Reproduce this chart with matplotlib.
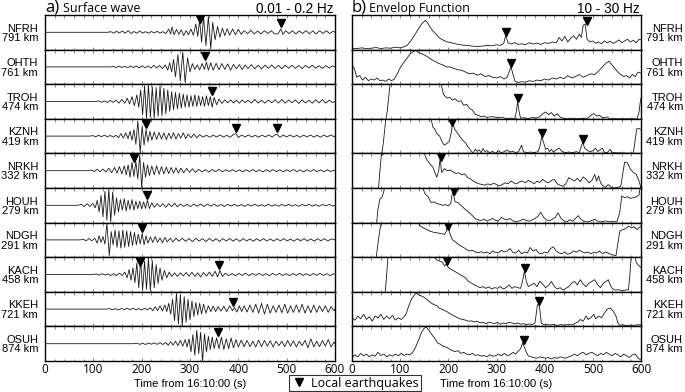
import numpy as np
import matplotlib.pyplot as plt
from matplotlib.lines import Line2D
from matplotlib.ticker import MultipleLocator

plt.rcParams['font.family'] = ['Liberation Sans', 'DejaVu Sans']

stations = ["NFRH", "OHTH", "TROH", "KZNH", "NRKH", "HOUH", "NDGH", "KACH", "KKEH", "OSUH"]
dist_km = [791, 761, 474, 419, 332, 279, 291, 458, 721, 874]

# local earthquake arrival times (s)
quakes_nfrh = [320, 488]
quakes_ohth = [331]
quakes_troh = [345]
quakes_kznh = [208, 395, 480]
quakes_nrkh = [185]
quakes_houh = [212]
quakes_ndgh = [200]
quakes_kach = [197, 360]
quakes_kkeh = [388]
quakes_osuh = [357]

# surface wave traces (time s, normalised amplitude), read peak by peak
sw_nfrh = [(0, 0), (130, 0), (136, 0.04), (142, -0.05), (148, 0.06), (154, -0.04), (160, 0.08), (166, -0.06),
           (172, 0.1), (178, -0.07), (184, 0.05), (190, -0.06), (196, 0.08), (202, -0.05), (208, 0.04), (214, -0.06),
           (220, 0.05), (226, -0.04), (232, 0.06), (238, -0.05), (244, 0.04), (250, -0.08), (256, 0.2), (260, -0.1),
           (263, 0.33), (267, -0.15), (272, 0.18), (277, -0.12), (282, 0.15), (287, -0.2), (292, 0.1), (297, -0.15),
           (302, 0.2), (307, -0.18), (312, 0.5), (316, -0.25), (320, 0.75), (324, -0.6), (328, 0.95), (333, -0.8),
           (338, 0.95), (343, -1.0), (347, 0.6), (352, -0.45), (357, 0.35), (362, -0.3), (367, 0.25), (372, -0.2),
           (377, 0.22), (382, -0.18), (388, 0.2), (394, -0.15), (400, 0.18), (406, -0.12), (412, 0.1), (419, -0.08),
           (426, 0.12), (433, -0.1), (440, 0.08), (447, -0.1), (454, 0.09), (461, -0.07), (468, 0.1), (475, -0.09),
           (482, -0.1), (488, 0.2), (492, -0.12), (498, 0.1), (505, -0.08), (512, 0.09), (519, -0.1), (526, 0.08),
           (533, -0.07), (540, 0.1), (547, -0.09), (554, 0.08), (561, -0.1), (568, 0.09), (575, -0.07), (582, 0.1),
           (589, -0.08), (596, 0.06), (600, 0)]
sw_ohth = [(0, 0), (135, 0), (141, 0.03), (147, -0.04), (153, 0.05), (159, -0.03), (165, 0.04), (171, -0.05),
           (177, 0.06), (183, -0.04), (189, 0.05), (195, -0.06), (201, 0.07), (207, -0.05), (213, 0.06), (219, -0.08),
           (225, 0.1), (231, -0.07), (237, 0.09), (243, -0.1), (249, 0.12), (254, -0.2), (258, 0.25), (262, -0.3),
           (266, 0.45), (270, -0.6), (275, 0.75), (280, -0.85), (285, 0.9), (290, -0.95), (295, 0.55), (300, -0.3),
           (305, 0.2), (310, -0.15), (315, 0.12), (320, -0.18), (325, 0.2), (330, -0.15), (334, 0.3), (338, -0.2),
           (343, 0.25), (348, -0.2), (354, 0.22), (360, -0.18), (366, 0.2), (372, -0.15), (378, 0.18), (384, -0.2),
           (390, 0.15), (396, -0.12), (402, 0.14), (408, -0.16), (414, 0.12), (420, -0.1), (427, 0.14), (434, -0.12),
           (441, 0.1), (448, -0.13), (455, 0.11), (462, -0.09), (469, 0.12), (476, -0.1), (483, 0.09), (490, -0.11),
           (497, 0.1), (504, -0.08), (511, 0.1), (518, -0.09), (525, 0.08), (532, -0.1), (539, 0.09), (546, -0.07),
           (553, 0.1), (560, -0.08), (567, 0.07), (574, -0.09), (581, 0.08), (588, -0.07), (595, 0.06), (600, 0)]
sw_troh = [(0, 0), (105, 0), (111, 0.04), (117, -0.05), (123, 0.04), (129, -0.06), (135, 0.07), (141, -0.05),
           (147, 0.08), (153, -0.1), (159, 0.12), (165, -0.1), (170, 0.2), (175, -0.15), (180, 0.3), (185, -0.25),
           (190, 0.4), (194, -0.35), (198, 0.7), (202, -0.8), (206, 0.95), (210, -1.0), (214, 1.0), (218, -0.95),
           (222, 0.9), (226, -1.0), (230, 0.85), (234, -0.9), (238, 0.95), (242, -0.85), (246, 0.8), (250, -0.75),
           (254, 0.7), (258, -0.6), (262, 0.6), (266, -0.5), (270, 0.55), (274, -0.45), (278, 0.5), (282, -0.4),
           (286, 0.45), (290, -0.35), (294, 0.4), (298, -0.35), (302, 0.35), (306, -0.3), (310, 0.4), (314, -0.3),
           (318, 0.35), (322, -0.25), (326, 0.3), (330, -0.3), (334, 0.35), (338, -0.25), (342, 0.3), (346, -0.35),
           (350, 0.25), (355, -0.2), (360, 0.15), (366, -0.12), (372, 0.1), (378, -0.08), (384, 0.1), (390, -0.09),
           (396, 0.08), (402, -0.1), (408, 0.09), (414, -0.07), (420, 0.08), (427, -0.1), (434, 0.12), (441, -0.09),
           (448, 0.08), (455, -0.1), (462, 0.09), (469, -0.08), (476, 0.1), (483, -0.09), (490, 0.12), (497, -0.1),
           (504, 0.09), (511, -0.08), (518, 0.1), (525, -0.12), (532, 0.1), (539, -0.09), (546, 0.08), (553, -0.1),
           (560, 0.11), (567, -0.09), (574, 0.12), (581, -0.1), (588, 0.08), (595, -0.06), (600, 0)]
sw_kznh = [(0, 0), (93, 0), (99, 0.03), (105, -0.04), (111, 0.05), (117, -0.04), (123, 0.06), (129, -0.05),
           (135, 0.04), (141, -0.06), (147, 0.05), (152, -0.1), (157, 0.15), (162, -0.12), (167, 0.2), (172, -0.15),
           (176, 0.3), (180, -0.25), (184, 0.4), (188, -0.5), (192, 0.9), (197, -1.0), (201, 0.6), (205, -0.55),
           (209, 0.4), (213, -0.35), (217, 0.3), (221, -0.25), (226, 0.25), (231, -0.2), (236, 0.22), (241, -0.18),
           (246, 0.2), (251, -0.22), (256, 0.18), (261, -0.15), (266, 0.2), (271, -0.18), (276, 0.15), (281, -0.12),
           (286, 0.2), (291, -0.15), (296, 0.12), (302, -0.1), (308, 0.12), (314, -0.1), (320, 0.08), (327, -0.06),
           (334, 0.05), (341, -0.07), (348, 0.06), (355, -0.05), (362, 0.07), (369, -0.06), (376, 0.05), (383, -0.07),
           (390, 0.1), (395, 0.15), (400, -0.08), (407, 0.06), (414, -0.05), (421, 0.07), (428, -0.06), (435, 0.05),
           (442, -0.07), (449, 0.06), (456, -0.05), (463, 0.07), (470, -0.06), (476, 0.08), (480, 0.12), (486, -0.07),
           (493, 0.06), (500, -0.05), (507, 0.07), (514, -0.06), (521, 0.05), (528, -0.07), (535, 0.06), (542, -0.05),
           (549, 0.07), (556, -0.06), (563, 0.05), (570, -0.07), (577, 0.06), (584, -0.05), (591, 0.07), (598, -0.04),
           (600, 0)]
sw_nrkh = [(0, 0), (90, 0), (96, 0.04), (102, -0.05), (108, 0.08), (114, -0.06), (120, 0.1), (126, -0.08),
           (132, 0.15), (138, -0.12), (144, 0.2), (149, -0.15), (154, 0.25), (159, -0.2), (164, 0.3), (168, -0.25),
           (172, 0.35), (176, -0.4), (180, 0.5), (184, -0.35), (188, 0.55), (192, -0.5), (196, 0.95), (200, -1.0),
           (204, 0.5), (208, -0.4), (212, 0.35), (216, -0.3), (221, 0.28), (226, -0.25), (231, 0.3), (236, -0.22),
           (241, 0.25), (246, -0.2), (251, 0.22), (256, -0.18), (261, 0.2), (266, -0.15), (271, 0.18), (276, -0.15),
           (281, 0.15), (287, -0.12), (293, 0.14), (299, -0.1), (305, 0.12), (311, -0.1), (318, 0.08), (325, -0.07),
           (332, 0.06), (339, -0.08), (346, 0.07), (353, -0.06), (360, 0.08), (367, -0.07), (374, 0.06), (381, -0.05),
           (388, 0.07), (395, -0.06), (402, 0.05), (409, -0.07), (416, 0.06), (423, -0.05), (430, 0.07), (437, -0.06),
           (444, 0.05), (451, -0.07), (458, 0.06), (465, -0.05), (472, 0.07), (479, -0.06), (486, 0.05), (493, -0.07),
           (500, 0.06), (507, -0.05), (514, 0.07), (521, -0.06), (528, 0.05), (535, -0.07), (542, 0.06), (549, -0.05),
           (556, 0.07), (563, -0.06), (570, 0.05), (577, -0.07), (584, 0.06), (591, -0.05), (598, 0.03), (600, 0)]
sw_houh = [(0, 0), (69, 0), (75, 0.06), (81, -0.08), (87, 0.1), (93, -0.07), (99, 0.12), (104, -0.15), (108, 0.3),
           (112, -0.4), (116, 0.6), (120, -0.7), (124, 0.85), (128, -0.9), (132, 1.0), (136, -1.0), (140, 0.8),
           (144, -0.6), (148, 0.45), (152, -0.4), (156, 0.35), (160, -0.3), (164, 0.4), (168, -0.35), (172, 0.3),
           (176, -0.25), (180, 0.35), (184, -0.3), (188, 0.25), (192, -0.2), (196, 0.25), (200, -0.22), (204, 0.2),
           (208, -0.18), (212, 0.3), (216, -0.2), (221, 0.15), (226, -0.12), (232, 0.1), (238, -0.08), (244, 0.1),
           (250, -0.12), (256, 0.1), (262, -0.08), (268, 0.12), (274, -0.1), (280, 0.08), (287, -0.07), (294, 0.06),
           (301, -0.08), (308, 0.07), (315, -0.06), (322, 0.08), (329, -0.07), (336, 0.06), (343, -0.05), (350, 0.07),
           (357, -0.06), (364, 0.05), (371, -0.07), (378, 0.06), (385, -0.05), (392, 0.06), (399, -0.05), (406, 0.04),
           (413, -0.06), (420, 0.05), (427, -0.04), (434, 0.06), (441, -0.05), (448, 0.04), (455, -0.06), (462, 0.07),
           (469, -0.05), (476, 0.04), (483, -0.06), (490, 0.05), (497, -0.04), (504, 0.06), (511, -0.05), (518, 0.04),
           (525, -0.06), (532, 0.05), (539, -0.04), (546, 0.06), (553, -0.05), (560, 0.04), (567, -0.06), (574, 0.05),
           (581, -0.04), (588, 0.06), (595, -0.05), (600, 0)]
sw_ndgh = [(0, 0), (73, 0), (79, 0.05), (85, -0.06), (91, 0.08), (97, -0.05), (103, 0.1), (108, -0.2), (112, 0.25),
           (116, -0.15), (120, 0.2), (124, -0.25), (128, 1.0), (133, -0.95), (137, 0.5), (141, -0.3), (145, 0.6),
           (149, -0.45), (153, 0.55), (157, -0.5), (161, 0.6), (165, -0.45), (169, 0.55), (173, -0.4), (177, 0.5),
           (181, -0.35), (185, 0.45), (189, -0.3), (193, 0.35), (197, -0.25), (201, 0.4), (205, -0.3), (209, 0.25),
           (213, -0.2), (218, 0.18), (223, -0.15), (228, 0.2), (233, -0.15), (238, 0.12), (243, -0.18), (248, 0.15),
           (253, -0.12), (259, 0.1), (265, -0.12), (271, 0.1), (277, -0.08), (284, 0.1), (291, -0.09), (298, 0.08),
           (305, -0.1), (312, 0.09), (319, -0.07), (326, 0.08), (333, -0.1), (340, 0.09), (347, -0.08), (354, 0.07),
           (361, -0.09), (368, 0.08), (375, -0.07), (382, 0.09), (389, -0.08), (396, 0.07), (403, -0.09), (410, 0.08),
           (417, -0.07), (424, 0.06), (431, -0.08), (438, 0.07), (445, -0.06), (452, 0.08), (459, -0.07), (466, 0.06),
           (473, -0.08), (480, 0.07), (487, -0.06), (494, 0.08), (501, -0.07), (508, 0.06), (515, -0.08), (522, 0.07),
           (529, -0.06), (536, 0.08), (543, -0.07), (550, 0.06), (557, -0.08), (564, 0.07), (571, -0.06), (578, 0.08),
           (585, -0.07), (592, 0.06), (600, 0)]
sw_kach = [(0, 0), (100, 0), (106, 0.03), (112, -0.04), (118, 0.05), (124, -0.03), (130, 0.04), (136, -0.06),
           (142, 0.05), (148, -0.07), (154, 0.08), (160, -0.06), (165, 0.15), (170, -0.2), (174, 0.3), (178, -0.35),
           (182, 0.4), (186, -0.5), (190, 0.7), (194, -0.8), (198, 0.9), (202, -0.95), (206, 0.8), (210, -0.9),
           (214, 1.0), (218, -1.0), (222, 0.85), (226, -0.8), (230, 0.6), (234, -0.55), (238, 0.4), (242, -0.35),
           (247, 0.25), (252, -0.2), (257, 0.15), (262, -0.12), (268, 0.1), (274, -0.12), (280, 0.1), (286, -0.08),
           (292, 0.12), (298, -0.1), (304, 0.14), (310, -0.12), (316, 0.1), (322, -0.15), (328, 0.12), (334, -0.1),
           (340, 0.15), (346, -0.12), (352, 0.2), (357, -0.15), (362, 0.25), (367, -0.12), (373, 0.08), (380, -0.07),
           (387, 0.06), (394, -0.08), (401, 0.07), (408, -0.06), (415, 0.08), (422, -0.07), (429, 0.06), (436, -0.05),
           (443, 0.07), (450, -0.06), (457, 0.05), (464, -0.07), (471, 0.06), (478, -0.05), (485, 0.07), (492, -0.06),
           (499, 0.05), (506, -0.07), (513, 0.06), (520, -0.05), (527, 0.07), (534, -0.06), (541, 0.05), (548, -0.07),
           (555, 0.06), (562, -0.05), (569, 0.07), (576, -0.06), (583, 0.05), (590, -0.07), (597, 0.05), (600, 0)]
sw_kkeh = [(0, 0), (128, 0), (134, 0.03), (140, -0.04), (146, 0.03), (152, -0.05), (158, 0.04), (164, -0.03),
           (170, 0.05), (176, -0.04), (182, 0.06), (188, -0.05), (194, 0.04), (200, -0.06), (206, 0.05), (212, -0.04),
           (218, 0.08), (223, -0.1), (228, 0.15), (233, -0.1), (238, 0.2), (243, -0.12), (248, 0.25), (252, -0.15),
           (256, 0.35), (260, -0.3), (264, 0.6), (268, -0.7), (272, 0.95), (276, -0.9), (280, 0.85), (284, -1.0),
           (288, 0.75), (292, -0.8), (296, 0.6), (300, -0.65), (304, 0.5), (308, -0.45), (312, 0.4), (316, -0.35),
           (320, 0.35), (324, -0.3), (328, 0.3), (333, -0.25), (338, 0.2), (343, -0.15), (348, 0.18), (353, -0.15),
           (358, 0.15), (364, -0.12), (370, 0.18), (376, -0.15), (382, 0.2), (388, -0.1), (392, 0.1), (397, -0.18),
           (402, 0.2), (407, -0.15), (412, 0.2), (418, -0.18), (424, 0.25), (430, -0.2), (436, 0.3), (442, -0.25),
           (448, 0.35), (454, -0.3), (460, 0.3), (466, -0.25), (472, 0.2), (478, -0.2), (484, 0.25), (490, -0.22),
           (496, 0.3), (502, -0.25), (508, 0.2), (514, -0.2), (520, 0.25), (526, -0.2), (532, 0.3), (538, -0.25),
           (544, 0.2), (550, -0.22), (556, 0.25), (562, -0.2), (568, 0.2), (574, -0.15), (580, 0.2), (586, -0.2),
           (592, 0.15), (598, -0.1), (600, 0)]
sw_osuh = [(0, 0), (184, 0), (190, 0.03), (196, -0.04), (202, 0.03), (208, -0.05), (214, 0.04), (220, -0.03),
           (226, 0.05), (232, -0.04), (238, 0.06), (244, -0.05), (250, 0.08), (255, -0.1), (260, 0.12), (265, -0.08),
           (270, 0.15), (275, -0.12), (280, 0.2), (285, -0.15), (290, 0.25), (294, -0.2), (298, 0.3), (302, -0.5),
           (306, 0.55), (310, -0.7), (314, 0.8), (318, -0.6), (322, 0.7), (326, -1.1), (330, 0.6), (334, -0.5),
           (338, 0.45), (342, -0.35), (346, 0.4), (350, -0.3), (355, 0.35), (360, -0.3), (365, 0.4), (370, -0.35),
           (375, 0.3), (380, -0.3), (385, 0.35), (390, -0.25), (395, 0.25), (400, -0.2), (406, 0.22), (412, -0.18),
           (418, 0.2), (424, -0.18), (430, 0.15), (436, -0.2), (442, 0.22), (448, -0.18), (454, 0.2), (460, -0.15),
           (466, 0.18), (472, -0.2), (478, 0.15), (484, -0.12), (490, 0.15), (496, -0.18), (502, 0.2), (508, -0.15),
           (514, 0.18), (520, -0.2), (526, 0.15), (532, -0.12), (538, 0.2), (544, -0.25), (550, 0.3), (556, -0.2),
           (562, 0.15), (568, -0.18), (574, 0.2), (580, -0.15), (586, 0.25), (592, -0.2), (598, 0.1), (600, 0)]

# 10-30 Hz envelopes (time s, fraction of row height; >1 runs off the row)
env_nfrh = [(0, 0.04), (10, 0.03), (20, 0.05), (30, 0.03), (40, 0.04), (50, 0.06), (60, 0.03), (70, 0.05), (80, 0.04),
            (90, 0.07), (100, 0.05), (108, 0.08), (115, 0.13), (122, 0.25), (130, 0.42), (138, 0.6), (145, 0.75),
            (153, 0.85), (160, 0.7), (167, 0.55), (174, 0.45), (182, 0.33), (190, 0.27), (198, 0.22), (206, 0.2),
            (214, 0.17), (222, 0.15), (230, 0.13), (240, 0.12), (250, 0.1), (260, 0.09), (270, 0.1), (280, 0.12),
            (290, 0.11), (300, 0.14), (308, 0.12), (315, 0.18), (319, 0.41), (324, 0.2), (330, 0.16), (338, 0.2),
            (345, 0.15), (352, 0.17), (360, 0.14), (368, 0.2), (376, 0.16), (384, 0.19), (392, 0.15), (400, 0.2),
            (408, 0.18), (416, 0.22), (424, 0.2), (430, 0.35), (436, 0.25), (442, 0.38), (448, 0.22), (454, 0.33),
            (460, 0.4), (466, 0.3), (472, 0.45), (476, 0.35), (480, 0.7), (484, 0.74), (488, 0.3), (494, 0.22),
            (500, 0.25), (506, 0.18), (512, 0.22), (518, 0.17), (524, 0.25), (530, 0.2), (536, 0.24), (542, 0.18),
            (548, 0.22), (554, 0.28), (560, 0.2), (566, 0.25), (572, 0.3), (578, 0.22), (584, 0.27), (590, 0.2),
            (596, 0.3), (600, 0.28)]
env_ohth = [(0, 0.56), (5, 0.45), (10, 0.2), (16, 0.25), (22, 0.12), (28, 0.2), (34, 0.1), (40, 0.15), (46, 0.12),
            (52, 0.18), (58, 0.1), (64, 0.12), (70, 0.08), (76, 0.15), (82, 0.1), (88, 0.15), (94, 0.3), (100, 0.48),
            (107, 0.62), (114, 0.75), (121, 0.88), (128, 0.95), (133, 0.97), (140, 0.9), (148, 0.86), (156, 0.8),
            (164, 0.72), (172, 0.66), (180, 0.6), (188, 0.56), (196, 0.5), (204, 0.5), (212, 0.45), (220, 0.42),
            (228, 0.4), (236, 0.35), (244, 0.3), (252, 0.32), (260, 0.26), (268, 0.3), (276, 0.22), (284, 0.25),
            (292, 0.2), (300, 0.18), (308, 0.22), (316, 0.15), (322, 0.2), (326, 0.35), (330, 0.5), (334, 0.3),
            (338, 0.1), (344, 0.05), (352, 0.07), (360, 0.06), (368, 0.1), (376, 0.08), (384, 0.12), (392, 0.1),
            (400, 0.15), (408, 0.12), (416, 0.18), (424, 0.15), (432, 0.2), (440, 0.16), (448, 0.25), (456, 0.18),
            (464, 0.22), (472, 0.28), (480, 0.2), (488, 0.25), (496, 0.3), (504, 0.28), (512, 0.38), (520, 0.5),
            (528, 0.62), (534, 0.66), (540, 0.55), (546, 0.45), (552, 0.35), (558, 0.28), (564, 0.22), (570, 0.25),
            (576, 0.18), (582, 0.28), (588, 0.22), (594, 0.35), (600, 0.32)]
env_troh = [(0, -0.02), (70, -0.02), (73, 0.2), (76, 0.6), (79, 1.0), (82, 1.3), (100, 1.6), (150, 1.5), (180, 1.2),
            (186, 0.95), (190, 0.7), (194, 0.64), (198, 0.6), (203, 0.62), (208, 0.54), (214, 0.58), (220, 0.5),
            (226, 0.52), (232, 0.39), (238, 0.42), (244, 0.3), (250, 0.25), (256, 0.13), (262, 0.1), (268, 0.06),
            (274, 0.08), (280, 0.04), (288, 0.06), (296, 0.05), (304, 0.03), (312, 0.05), (320, 0.0), (330, 0.02),
            (338, 0.0), (341, 0.2), (344, 0.49), (347, 0.2), (350, 0.02), (358, 0.03), (366, 0.0), (374, 0.04),
            (382, 0.02), (390, 0.06), (396, 0.15), (402, 0.2), (408, 0.12), (414, 0.18), (420, 0.08), (426, 0.15),
            (432, 0.05), (438, 0.02), (446, 0.0), (454, 0.02), (462, 0.0), (490, 0.02), (496, 0.1), (502, 0.15),
            (508, 0.08), (514, 0.1), (520, 0.03), (530, 0.05), (536, 0.0), (592, 0.0), (596, 0.2), (598, 0.44),
            (600, 0.6)]
env_kznh = [(0, -0.02), (62, -0.02), (65, 0.3), (68, 0.7), (71, 1.1), (75, 1.4), (120, 1.6), (160, 1.2), (164, 1.0),
            (168, 0.76), (172, 0.7), (176, 0.57), (182, 0.5), (188, 0.3), (192, 0.24), (198, 0.3), (202, 0.35),
            (206, 0.6), (209, 0.9), (213, 0.7), (220, 0.57), (226, 0.45), (230, 0.38), (236, 0.3), (240, 0.2),
            (246, 0.1), (248, 0.05), (252, 0.02), (256, 0.12), (260, 0.06), (264, 0.1), (268, 0.02), (272, 0.14),
            (276, 0.05), (280, 0.08), (286, 0.02), (292, 0.06), (298, 0.0), (304, 0.08), (310, 0.02), (316, 0.05),
            (322, 0.1), (328, 0.04), (334, 0.06), (340, 0.02), (346, 0.05), (352, 0.24), (356, 0.05), (362, 0.02),
            (370, 0.04), (378, 0.02), (386, 0.05), (390, 0.2), (394, 0.48), (398, 0.3), (402, 0.12), (406, 0.15),
            (410, 0.05), (414, 0.12), (418, 0.04), (424, 0.1), (430, 0.15), (436, 0.06), (442, 0.02), (450, 0.04),
            (458, 0.02), (466, 0.05), (472, 0.02), (476, 0.2), (479, 0.33), (483, 0.15), (488, 0.1), (494, 0.04),
            (500, 0.08), (506, 0.15), (510, 0.05), (516, 0.12), (520, 0.15), (524, 0.03), (530, 0.02), (536, 0.12),
            (540, 0.02), (584, 0.0), (588, 0.4), (591, 0.71), (596, 0.72), (600, 0.68)]
env_nrkh = [(0, -0.02), (55, -0.02), (58, 0.5), (61, 0.97), (64, 0.95), (68, 1.2), (80, 1.6), (140, 1.3), (150, 1.0),
            (156, 0.8), (162, 0.7), (168, 0.6), (172, 0.45), (176, 0.31), (180, 0.5), (183, 0.85), (186, 0.45),
            (192, 0.56), (198, 0.5), (204, 0.52), (210, 0.46), (216, 0.42), (222, 0.44), (228, 0.38), (234, 0.41),
            (240, 0.3), (246, 0.26), (252, 0.2), (258, 0.15), (264, 0.12), (270, 0.1), (276, 0.08), (282, 0.12),
            (288, 0.09), (294, 0.14), (300, 0.1), (306, 0.06), (312, 0.1), (318, 0.15), (324, 0.12), (330, 0.2),
            (336, 0.15), (342, 0.12), (348, 0.18), (354, 0.2), (360, 0.15), (366, 0.22), (372, 0.18), (378, 0.12),
            (384, 0.2), (390, 0.16), (396, 0.25), (402, 0.18), (408, 0.15), (414, 0.22), (420, 0.25), (426, 0.12),
            (432, 0.08), (438, 0.05), (444, 0.12), (450, 0.3), (456, 0.25), (462, 0.2), (468, 0.28), (474, 0.18),
            (480, 0.32), (486, 0.25), (492, 0.15), (498, 0.22), (504, 0.39), (508, 0.2), (512, 0.35), (516, 0.15),
            (520, 0.08), (526, 0.02), (532, 0.1), (538, 0.02), (544, 0.0), (552, 0.02), (558, 0.05), (562, 0.4),
            (566, 0.75), (572, 0.72), (578, 0.55), (584, 0.45), (590, 0.4), (596, 0.2), (600, 0.0)]
env_houh = [(0, -0.02), (51, -0.02), (54, 0.4), (58, 0.68), (62, 0.72), (66, 0.9), (70, 1.2), (90, 1.6), (140, 1.2),
            (147, 1.0), (152, 0.82), (158, 0.75), (164, 0.58), (170, 0.6), (176, 0.55), (182, 0.53), (188, 0.5),
            (194, 0.52), (200, 0.48), (205, 0.55), (209, 0.92), (214, 0.6), (220, 0.58), (226, 0.5), (232, 0.42),
            (238, 0.35), (244, 0.28), (250, 0.2), (256, 0.11), (262, 0.08), (268, 0.06), (274, 0.1), (280, 0.05),
            (286, 0.08), (292, 0.12), (298, 0.06), (304, 0.05), (310, 0.15), (316, 0.1), (322, 0.08), (328, 0.12),
            (334, 0.05), (340, 0.03), (348, 0.05), (356, 0.1), (362, 0.06), (368, 0.04), (374, 0.08), (380, 0.12),
            (386, 0.18), (392, 0.3), (398, 0.15), (404, 0.08), (410, 0.05), (416, 0.1), (422, 0.15), (428, 0.28),
            (434, 0.12), (440, 0.05), (446, 0.02), (452, 0.08), (458, 0.04), (464, 0.12), (470, 0.2), (476, 0.08),
            (482, 0.04), (490, 0.02), (498, 0.06), (504, 0.1), (510, 0.04), (518, 0.02), (526, 0.05), (534, 0.02),
            (542, 0.04), (550, 0.02), (556, 0.3), (560, 0.77), (566, 0.72), (572, 0.75), (578, 0.7), (584, 0.72),
            (590, 0.74), (596, 0.8), (600, 1.2)]
env_ndgh = [(0, -0.02), (50, -0.02), (54, 0.4), (58, 0.8), (62, 1.1), (70, 1.5), (130, 1.2), (137, 1.0), (142, 0.9),
            (148, 0.85), (155, 0.8), (162, 0.75), (170, 0.72), (178, 0.7), (186, 0.68), (192, 0.66), (196, 0.75),
            (199, 0.99), (203, 0.7), (208, 0.51), (214, 0.45), (220, 0.38), (226, 0.32), (232, 0.28), (238, 0.22),
            (244, 0.18), (250, 0.2), (256, 0.15), (262, 0.13), (268, 0.16), (274, 0.12), (280, 0.15), (286, 0.1),
            (292, 0.18), (298, 0.14), (304, 0.12), (310, 0.2), (316, 0.15), (322, 0.18), (328, 0.25), (334, 0.14),
            (340, 0.12), (346, 0.2), (352, 0.1), (358, 0.15), (364, 0.12), (370, 0.28), (376, 0.18), (382, 0.22),
            (388, 0.12), (394, 0.1), (400, 0.15), (406, 0.12), (412, 0.25), (418, 0.3), (424, 0.18), (430, 0.12),
            (436, 0.1), (442, 0.15), (448, 0.08), (454, 0.12), (460, 0.18), (466, 0.14), (472, 0.2), (478, 0.16),
            (484, 0.12), (490, 0.15), (496, 0.1), (502, 0.14), (508, 0.12), (514, 0.18), (520, 0.1), (526, 0.15),
            (532, 0.12), (538, 0.08), (544, 0.06), (548, 0.04), (552, 0.4), (556, 0.75), (562, 0.8), (568, 0.82),
            (574, 0.9), (580, 0.85), (586, 0.88), (592, 0.8), (596, 0.85), (600, 0.9)]
env_kach = [(0, -0.02), (69, -0.02), (72, 0.5), (75, 1.1), (80, 1.6), (165, 1.2), (171, 1.0), (176, 0.92),
            (182, 0.89), (188, 0.85), (192, 0.75), (196, 0.8), (200, 0.7), (206, 0.65), (212, 0.6), (218, 0.55),
            (224, 0.5), (230, 0.45), (236, 0.4), (242, 0.3), (248, 0.25), (254, 0.2), (260, 0.16), (266, 0.12),
            (272, 0.15), (278, 0.1), (284, 0.14), (290, 0.08), (296, 0.12), (302, 0.1), (308, 0.15), (314, 0.08),
            (320, 0.12), (326, 0.2), (332, 0.1), (338, 0.15), (344, 0.12), (350, 0.1), (354, 0.3), (358, 0.6),
            (362, 0.3), (366, 0.15), (372, 0.2), (378, 0.25), (384, 0.15), (390, 0.3), (396, 0.22), (402, 0.12),
            (408, 0.18), (414, 0.3), (420, 0.15), (426, 0.08), (432, 0.12), (438, 0.05), (444, 0.1), (450, 0.15),
            (456, 0.25), (462, 0.3), (468, 0.2), (474, 0.35), (480, 0.22), (486, 0.15), (492, 0.25), (498, 0.3),
            (504, 0.35), (510, 0.2), (516, 0.12), (522, 0.25), (528, 0.3), (532, 0.35), (536, 0.2), (540, 0.1),
            (546, 0.05), (552, 0.06), (560, 0.04), (568, 0.05), (574, 0.06), (577, 0.5), (580, 1.1), (584, 1.3),
            (590, 0.85), (596, 0.75), (600, 0.7)]
env_kkeh = [(0, 0.25), (6, 0.18), (12, 0.3), (18, 0.22), (24, 0.35), (30, 0.2), (36, 0.28), (42, 0.15), (48, 0.3),
            (54, 0.25), (60, 0.35), (66, 0.2), (72, 0.3), (78, 0.22), (84, 0.32), (90, 0.18), (96, 0.25), (102, 0.2),
            (108, 0.28), (112, 0.35), (118, 0.6), (124, 0.8), (130, 0.92), (134, 0.96), (140, 0.9), (146, 0.87),
            (152, 0.82), (158, 0.75), (164, 0.68), (170, 0.63), (176, 0.6), (182, 0.52), (188, 0.49), (194, 0.45),
            (200, 0.4), (206, 0.35), (212, 0.3), (218, 0.26), (224, 0.22), (230, 0.2), (236, 0.18), (242, 0.15),
            (248, 0.16), (254, 0.13), (260, 0.15), (266, 0.1), (272, 0.12), (278, 0.08), (284, 0.12), (290, 0.1),
            (296, 0.08), (302, 0.12), (308, 0.06), (314, 0.1), (320, 0.08), (326, 0.12), (332, 0.1), (338, 0.08),
            (344, 0.1), (350, 0.06), (356, 0.08), (362, 0.05), (368, 0.07), (374, 0.05), (380, 0.1), (385, 0.63),
            (389, 0.6), (393, 0.1), (398, 0.05), (404, 0.06), (410, 0.04), (418, 0.06), (426, 0.03), (434, 0.05),
            (442, 0.04), (450, 0.06), (456, 0.04), (462, 0.08), (468, 0.12), (474, 0.2), (480, 0.15), (486, 0.3),
            (490, 0.2), (496, 0.25), (502, 0.35), (506, 0.22), (512, 0.3), (518, 0.25), (524, 0.38), (530, 0.5),
            (536, 0.53), (542, 0.45), (548, 0.3), (552, 0.1), (556, 0.03), (562, 0.05), (570, 0.02), (578, 0.04),
            (586, 0.03), (594, 0.05), (600, 0.04)]
env_osuh = [(0, 0.1), (6, 0.18), (12, 0.12), (18, 0.22), (24, 0.15), (30, 0.2), (36, 0.12), (42, 0.18), (48, 0.14),
            (54, 0.25), (60, 0.16), (66, 0.2), (72, 0.12), (78, 0.18), (84, 0.14), (90, 0.2), (96, 0.15), (102, 0.22),
            (108, 0.16), (114, 0.2), (120, 0.18), (126, 0.25), (132, 0.4), (138, 0.6), (144, 0.82), (150, 0.95),
            (154, 0.98), (160, 0.88), (166, 0.76), (172, 0.65), (178, 0.52), (184, 0.48), (190, 0.42), (196, 0.4),
            (202, 0.35), (208, 0.3), (214, 0.27), (220, 0.3), (226, 0.22), (232, 0.25), (238, 0.2), (244, 0.18),
            (250, 0.22), (256, 0.16), (262, 0.18), (268, 0.14), (274, 0.16), (280, 0.12), (286, 0.18), (292, 0.14),
            (298, 0.15), (304, 0.2), (310, 0.15), (316, 0.22), (322, 0.16), (328, 0.18), (334, 0.25), (340, 0.2),
            (346, 0.3), (350, 0.35), (354, 0.52), (358, 0.4), (362, 0.25), (366, 0.15), (372, 0.12), (378, 0.1),
            (384, 0.08), (390, 0.12), (396, 0.1), (402, 0.08), (408, 0.1), (414, 0.06), (420, 0.1), (426, 0.08),
            (432, 0.12), (438, 0.1), (444, 0.08), (450, 0.12), (456, 0.15), (462, 0.2), (468, 0.15), (474, 0.22),
            (480, 0.25), (486, 0.18), (492, 0.22), (498, 0.25), (504, 0.2), (510, 0.15), (516, 0.22), (522, 0.18),
            (528, 0.25), (534, 0.2), (540, 0.15), (546, 0.22), (552, 0.18), (558, 0.12), (564, 0.2), (570, 0.15),
            (576, 0.1), (582, 0.18), (588, 0.2), (594, 0.08), (600, 0.03)]

surface = [sw_nfrh, sw_ohth, sw_troh, sw_kznh, sw_nrkh, sw_houh, sw_ndgh, sw_kach, sw_kkeh, sw_osuh]
envelope = [env_nfrh, env_ohth, env_troh, env_kznh, env_nrkh, env_houh, env_ndgh, env_kach, env_kkeh, env_osuh]
quakes = [quakes_nfrh, quakes_ohth, quakes_troh, quakes_kznh, quakes_nrkh,
          quakes_houh, quakes_ndgh, quakes_kach, quakes_kkeh, quakes_osuh]

W, H = 685, 392
fig = plt.figure(figsize=(W / 100, H / 100), dpi=100)
line_c = '#1a1a1a'
top_px, bot_px = 15, 361
row_h = (bot_px - top_px) / 10


def mark_y(pts, tq, pad, cap):
    t = np.array([p[0] for p in pts], float)
    a = np.array([p[1] for p in pts], float)
    near = a[(t >= tq - 5) & (t <= tq + 5)]
    v = near.max() if len(near) else np.interp(tq, t, a)
    return min(v + pad, cap)


def style_ax(ax, last):
    ax.set_xlim(0, 600)
    ax.set_yticks([])
    ax.xaxis.set_major_locator(MultipleLocator(100))
    ax.xaxis.set_minor_locator(MultipleLocator(20))
    ax.tick_params(which='both', direction='in', top=True, bottom=True, labelbottom=last,
                   width=0.5, colors='#555555', labelcolor='black', pad=1.5)
    ax.tick_params(which='major', length=2.5)
    ax.tick_params(which='minor', length=1.8)
    for s in ax.spines.values():
        s.set_linewidth(1.0)
    if last:
        for lab in ax.get_xticklabels():
            lab.set_fontfamily('Open Sans')
            lab.set_fontsize(8.5)
        ax.set_xlabel("Time from 16:10:00 (s)", fontsize=8, labelpad=2)


for i in range(10):
    y0 = 1 - (top_px + (i + 1) * row_h) / H
    label = f"{stations[i]}\n{dist_km[i]} km"
    # surface waves
    ax = fig.add_axes([45 / W, y0, 290 / W, row_h / H])
    t, a = zip(*surface[i])
    ax.plot(t, a, color=line_c, lw=0.6)
    ax.set_ylim(-1.05, 1.05)
    for tq in quakes[i]:
        ax.plot(tq, mark_y(surface[i], tq, 0.35, 0.78), marker='v', color='black', ms=5.5, ls='none')
    style_ax(ax, i == 9)
    ax.text(-0.024, 0.47, label, transform=ax.transAxes,
            ha='right', va='center', fontsize=8, linespacing=0.92)

    # envelopes
    ax = fig.add_axes([352 / W, y0, 289 / W, row_h / H])
    t, v = zip(*envelope[i])
    ax.plot(t, v, color=line_c, lw=0.6)
    ax.set_ylim(0, 1.0)
    for tq in quakes[i]:
        ax.plot(tq, mark_y(envelope[i], tq, 0.1, 0.9), marker='v', color='black', ms=5.5, ls='none')
    style_ax(ax, i == 9)
    ax.text(1.145, 0.47, label, transform=ax.transAxes,
            ha='right', va='center', fontsize=8, linespacing=0.92)

# panel titles
fig.text(45 / W, 1 - 12 / H, "a)", fontsize=12, family='Open Sans', va='baseline')
fig.text(63 / W, 1 - 12 / H, "Surface wave", fontsize=9, family='Open Sans', va='baseline')
fig.text(333 / W, 1 - 13 / H, "0.01 - 0.2 Hz", fontsize=9.8, ha='right', va='baseline')
fig.text(352 / W, 1 - 12 / H, "b)", fontsize=12, family='Open Sans', va='baseline')
fig.text(369 / W, 1 - 12 / H, "Envelop Function", fontsize=9, family='Open Sans', va='baseline')
fig.text(640 / W, 1 - 13 / H, "10 - 30 Hz", fontsize=9.8, ha='right', va='baseline')

handle = Line2D([], [], marker='v', color='black', ls='none', ms=5.5)
leg = fig.legend([handle], ["Local earthquakes"], loc='center', bbox_to_anchor=(355 / W, 1 - 383 / H),
                 frameon=True, fancybox=False, edgecolor='black', borderpad=0.15, handletextpad=0.4,
                 handlelength=1.2, borderaxespad=0, prop={'family': 'Open Sans', 'size': 9})
leg.get_frame().set_linewidth(0.8)

fig.savefig("out.png", dpi=100)
